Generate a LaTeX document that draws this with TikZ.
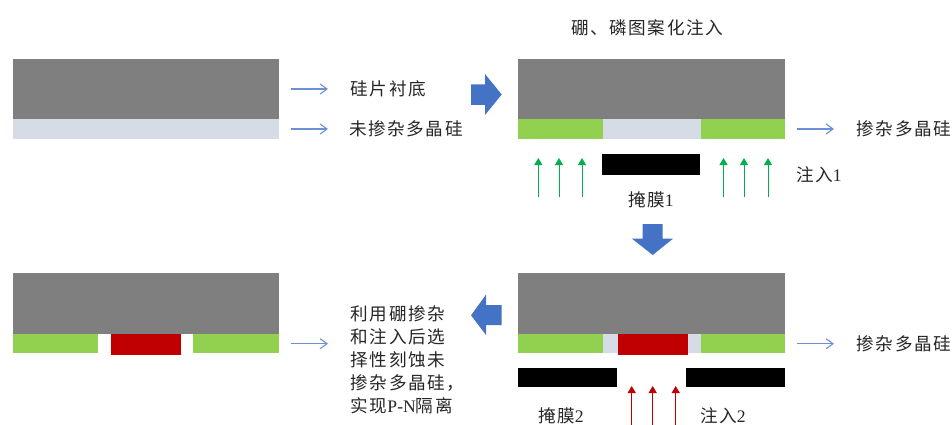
\documentclass[tikz,border=0pt]{standalone}
\usepackage{fontspec}
\setmainfont{Liberation Serif}
\newfontfamily\cjk[LetterSpace=9]{Noto Sans CJK SC}
\usetikzlibrary{arrows.meta}
\definecolor{siGray}{HTML}{7F7F7F}
\definecolor{polyLight}{HTML}{D6DCE5}
\definecolor{dopeGreen}{HTML}{92D050}
\definecolor{dopeRed}{HTML}{C00000}
\definecolor{flowBlue}{HTML}{4472C4}
\definecolor{thinBlue}{HTML}{6A90D6}
\definecolor{implantGreen}{HTML}{00B050}
\definecolor{implantRed}{HTML}{C00000}
\tikzset{
  x=1pt,y=-1pt,
  label text/.style={inner sep=0pt,anchor=west,text=black!85,font=\fontsize{17.6}{23}\selectfont},
  thin arrow/.style={draw=thinBlue,line width=1.1pt,-{Straight Barb[length=7pt,width=10pt,line width=1.1pt]}},
  green implant/.style={draw=implantGreen,line width=1pt,-{Triangle[length=7pt,width=8pt]}},
  red implant/.style={draw=implantRed,line width=1pt,-{Triangle[length=7pt,width=8pt]}},
  fat arrow/.style={fill=flowBlue,draw=none},
}
% name, colour, x1, y1, x2, y2
\newcommand{\layerbox}[6]{%
  \pgfmathsetmacro{\lw}{#5-#3}\pgfmathsetmacro{\lh}{#6-#4}%
  \node[fill=#2,draw=none,inner sep=0pt,outer sep=0pt,anchor=north west,
        minimum width=\lw pt,minimum height=\lh pt] (#1) at (#3,#4) {};}
\begin{document}
\begin{tikzpicture}
\useasboundingbox (0,0) rectangle (952,425);
% top left
\layerbox{aSi}{siGray}{12.5}{59}{278.5}{119}
\layerbox{aPoly}{polyLight}{12.5}{119}{278.5}{138.5}
% top right
\layerbox{bSi}{siGray}{518.3}{59}{784.5}{119}
\layerbox{bGreenL}{dopeGreen}{518.3}{119}{603}{138.5}
\layerbox{bPoly}{polyLight}{603}{119}{701}{138.5}
\layerbox{bGreenR}{dopeGreen}{701}{119}{784.5}{138.5}
\layerbox{bMask}{black}{601.7}{154.3}{700.3}{175}
% bottom right
\layerbox{cSi}{siGray}{518.3}{273}{784.5}{333.7}
\layerbox{cGreenL}{dopeGreen}{518.3}{333.7}{603}{353}
\layerbox{cPolyL}{polyLight}{603}{333.7}{618}{353}
\layerbox{cPolyR}{polyLight}{688}{333.7}{701}{353}
\layerbox{cGreenR}{dopeGreen}{701}{333.7}{784.5}{353}
\layerbox{cRed}{dopeRed}{618}{333.7}{688}{354.5}
\layerbox{cMaskL}{black}{518.3}{368}{616.7}{387.3}
\layerbox{cMaskR}{black}{686.3}{368}{784.5}{387.3}
% bottom left
\layerbox{dSi}{siGray}{12.5}{273}{278.5}{333.7}
\layerbox{dGreenL}{dopeGreen}{12.5}{333.7}{98.3}{353}
\layerbox{dRed}{dopeRed}{110.7}{333.7}{180.7}{354.5}
\layerbox{dGreenR}{dopeGreen}{193}{333.7}{278.5}{353}
% texts
\node[label text] (tSub) at (350.5,89) {\cjk 硅片衬底};
\node[label text] (tUndoped) at (349,129) {\cjk 未掺杂多晶硅};
\node[label text] (tTitle) at (571,28) {\cjk 硼、磷图案化注入};
\node[label text] (tDopedA) at (856.5,129) {\cjk 掺杂多晶硅};
\node[label text] (tImpA) at (796,175) {{\cjk 注入}1};
\node[label text] (tMaskA) at (628,200) {{\cjk 掩膜}1};
\node[label text] (tDopedB) at (856.5,343.7) {\cjk 掺杂多晶硅};
\node[label text] (tMaskB) at (538,416) {{\cjk 掩膜}2};
\node[label text] (tImpB) at (700,416) {{\cjk 注入}2};
\node[label text,align=left] (tEtch) at (350.5,359.5) {{\cjk 利用硼掺杂}\\{\cjk 和注入后选}\\{\cjk 择性刻蚀未}\\{\cjk 掺杂多晶硅，}\\{\cjk 实现}P-N{\cjk 隔离}};
% thin pointers
\coordinate (p1s) at (290.5,89);  \coordinate (p1e) at (328,89);
\coordinate (p2s) at (290.5,129); \coordinate (p2e) at (328,129);
\coordinate (p3s) at (796.5,129); \coordinate (p3e) at (834,129);
\coordinate (p4s) at (796.5,343.7); \coordinate (p4e) at (834,343.7);
\coordinate (p5s) at (290.5,343.7); \coordinate (p5e) at (328,343.7);
\foreach \n in {1,...,5} \draw[thin arrow] (p\n s) -- (p\n e);
% implants
\foreach \i/\xx in {1/538.3,2/559,3/582,4/723.5,5/744,6/768}{
  \coordinate (g\i s) at (\xx,197); \coordinate (g\i e) at (\xx,158);
  \draw[green implant] (g\i s) -- (g\i e);}
\foreach \i/\xx in {1/631.7,2/652.7,3/675.7}{
  \coordinate (r\i s) at (\xx,425); \coordinate (r\i e) at (\xx,386);
  \draw[red implant] (r\i s) -- (r\i e);}
% process arrows
\fill[fat arrow] (471,84.5) -- (485,84.5) -- (485,74) -- (501.7,94.5) -- (485,115) -- (485,105) -- (471,105) -- cycle;
\fill[fat arrow] (642.7,224) -- (662.7,224) -- (662.7,238.7) -- (673,238.7) -- (652.7,255) -- (632,238.7) -- (642.7,238.7) -- cycle;
\fill[fat arrow] (501.7,305) -- (486,305) -- (486,294.7) -- (471,315.3) -- (486,335) -- (486,325) -- (501.7,325) -- cycle;
\end{tikzpicture}
\end{document}
